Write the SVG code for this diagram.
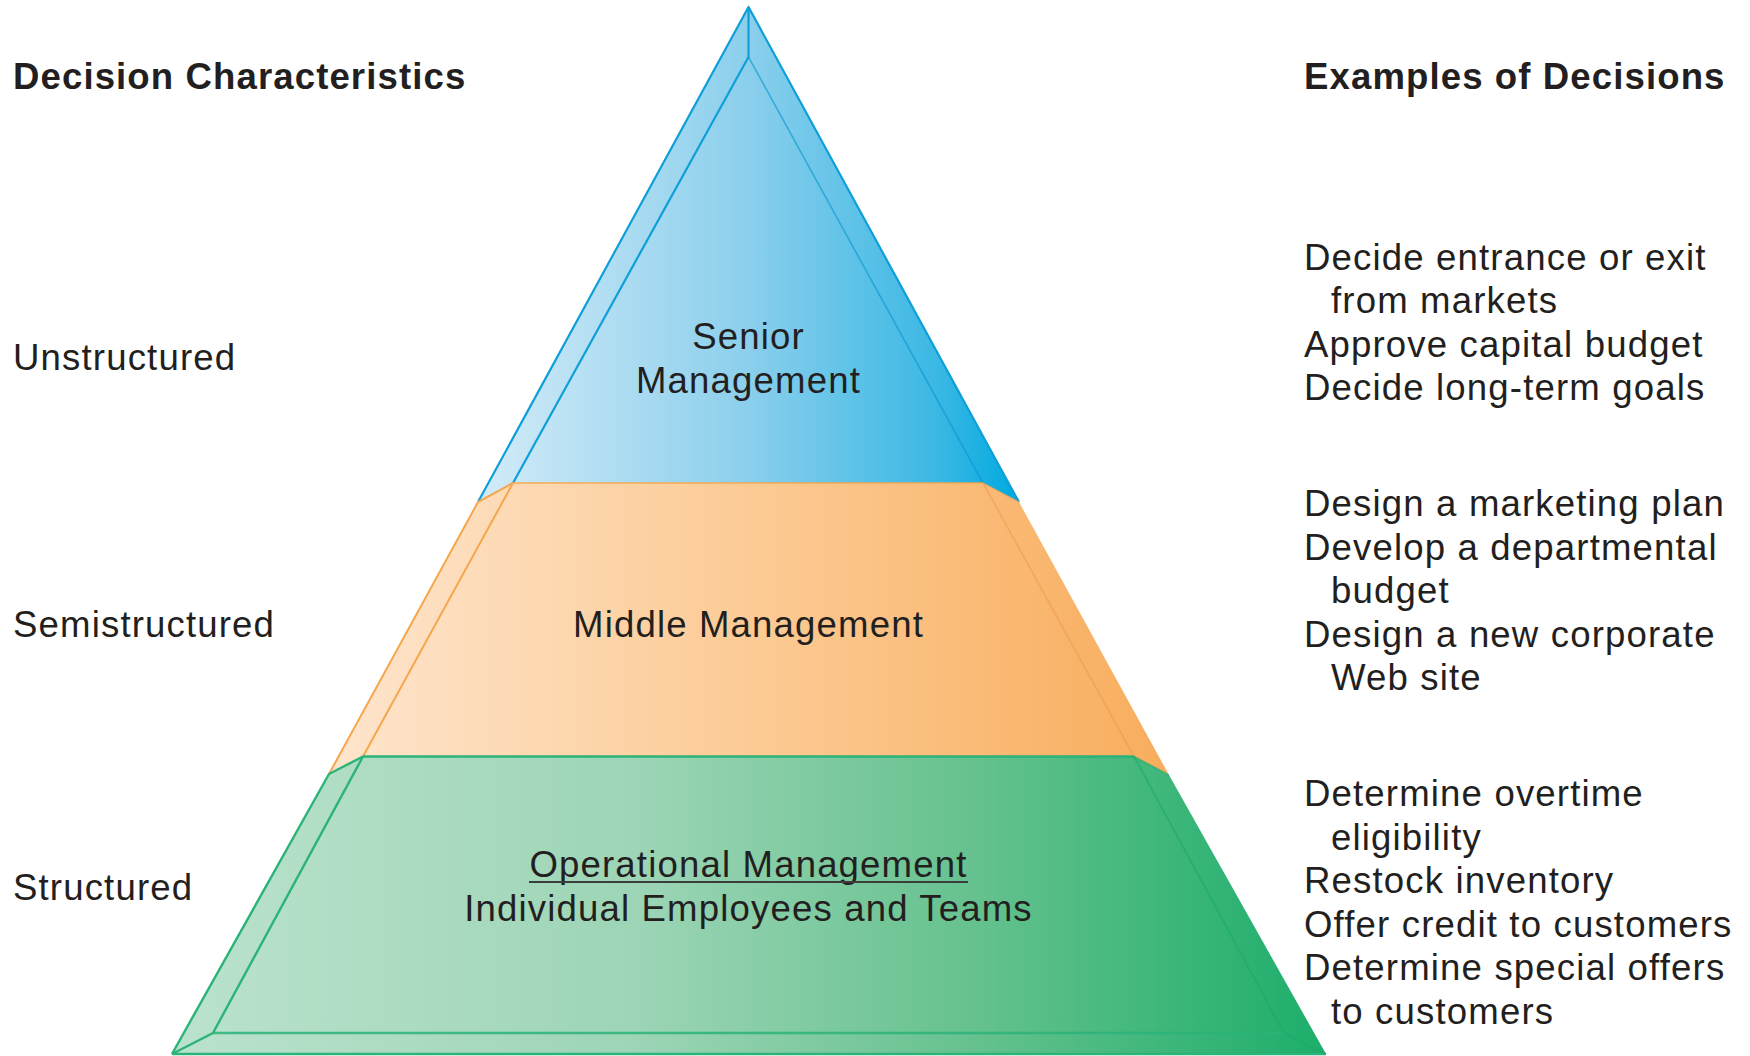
<svg xmlns="http://www.w3.org/2000/svg" width="1750" height="1056" viewBox="0 0 1750 1056">
  <style>
    .t { font-family: "Liberation Sans", Arial, Helvetica, sans-serif; font-size: 36.6px; letter-spacing: 1.15px; fill: #231f20; }
    .b { font-weight: bold; letter-spacing: 1.1px; }
    .c { text-anchor: middle; }
    .blue { stroke: #0e9fd9; stroke-width: 2.2; fill: none; stroke-linejoin: round; }
    .orange { stroke: #f6a64c; stroke-width: 2; fill: none; stroke-linejoin: round; }
    .green { stroke: #2bb378; stroke-width: 2.4; fill: none; stroke-linejoin: round; }
    .blueR { stroke: #0896cf; stroke-width: 1.6; fill: none; opacity: 0.6; }
    .orangeR { stroke: #e89a48; stroke-width: 1.6; fill: none; opacity: 0.5; }
    .greenR { stroke: #1ea868; stroke-width: 1.8; fill: none; opacity: 0.6; }
  </style>
  <defs>
    <linearGradient id="gBlue" gradientUnits="userSpaceOnUse" x1="478" y1="0" x2="1019" y2="0">
      <stop offset="0" stop-color="#d3ebf8"/>
      <stop offset="0.5" stop-color="#8bcfec"/>
      <stop offset="0.85" stop-color="#3ab8e4"/>
      <stop offset="1" stop-color="#00a9df"/>
    </linearGradient>
    <linearGradient id="gOrange" gradientUnits="userSpaceOnUse" x1="329" y1="0" x2="1169" y2="0">
      <stop offset="0" stop-color="#fee5cd"/>
      <stop offset="0.5" stop-color="#fccb95"/>
      <stop offset="1" stop-color="#f8ad5d"/>
    </linearGradient>
    <linearGradient id="gGreen" gradientUnits="userSpaceOnUse" x1="172" y1="0" x2="1326" y2="0">
      <stop offset="0" stop-color="#bbe2cd"/>
      <stop offset="0.4" stop-color="#9dd5b6"/>
      <stop offset="0.7" stop-color="#64c18e"/>
      <stop offset="1" stop-color="#1dae6b"/>
    </linearGradient>
  </defs>

  <rect x="0" y="0" width="1750" height="1056" fill="#ffffff"/>

  <g id="tier-senior">
    <polygon points="748.5,7 1019,502 983,483 513,483 478,502" fill="url(#gBlue)"/>
    <polyline class="blue" points="478,502 748.5,7 1019,502"/>
    <line class="blue" x1="748.5" y1="7" x2="748.5" y2="57"/>
    <polyline class="blue" points="513,483 748.5,57"/>
    <polyline class="blueR" points="748.5,57 983,483"/>
    <text class="t c" x="748.5" y="349">Senior</text>
    <text class="t c" x="748.5" y="393">Management</text>
  </g>

  <g id="tier-middle">
    <polygon points="478,502 513,483 983,483 1019,502 1169,775 1134,756.5 363,756.5 329,774" fill="url(#gOrange)"/>
    <polyline class="orange" points="329,774 478,502 513,483"/>
    <line class="orange" x1="513" y1="483" x2="983" y2="483" opacity="0.7"/>
    <line class="orange" x1="513" y1="483" x2="363" y2="756.5"/>
    <polyline class="orangeR" points="983,483 1019,502"/>
    <line class="orangeR" x1="983" y1="483" x2="1134" y2="756.5"/>
    <text class="t c" x="748.5" y="637">Middle Management</text>
  </g>

  <g id="tier-operational">
    <polygon points="329,774 363,756.5 1134,756.5 1169,775 1326,1054 172,1054" fill="url(#gGreen)"/>
    <polyline class="green" points="1134,756.5 363,756.5 329,774 172,1054"/>
    <polyline class="green" points="363,756.5 213,1033 172,1054"/>
    <line class="green" x1="213" y1="1033" x2="1284" y2="1033" opacity="0.85"/>
    <line class="green" x1="172" y1="1054" x2="1326" y2="1054"/>
    <polyline class="greenR" points="1134,756.5 1169,775"/>
    <polyline class="greenR" points="1134,756.5 1284,1033 1326,1054"/>
    <text class="t c" x="748.5" y="877">Operational Management</text>
    <line x1="529" y1="882" x2="968" y2="882" stroke="#3a3d3b" stroke-width="2"/>
    <text class="t c" x="748.5" y="921">Individual Employees and Teams</text>
  </g>

  <g id="header-left">
    <text class="t b" x="13" y="89">Decision Characteristics</text>
  </g>
  <g id="header-right">
    <text class="t b" x="1304" y="89">Examples of Decisions</text>
  </g>

  <g id="characteristics">
    <text class="t" x="13" y="370">Unstructured</text>
    <text class="t" x="13" y="637">Semistructured</text>
    <text class="t" x="13" y="900">Structured</text>
  </g>

  <g id="examples-senior">
    <text class="t" x="1304" y="270">Decide entrance or exit</text>
    <text class="t" x="1331" y="313">from markets</text>
    <text class="t" x="1304" y="357">Approve capital budget</text>
    <text class="t" x="1304" y="400">Decide long-term goals</text>
  </g>
  <g id="examples-middle">
    <text class="t" x="1304" y="516">Design a marketing plan</text>
    <text class="t" x="1304" y="559.5">Develop a departmental</text>
    <text class="t" x="1331" y="603">budget</text>
    <text class="t" x="1304" y="646.5">Design a new corporate</text>
    <text class="t" x="1331" y="690">Web site</text>
  </g>
  <g id="examples-operational">
    <text class="t" x="1304" y="806">Determine overtime</text>
    <text class="t" x="1331" y="849.5">eligibility</text>
    <text class="t" x="1304" y="893">Restock inventory</text>
    <text class="t" x="1304" y="936.5">Offer credit to customers</text>
    <text class="t" x="1304" y="980">Determine special offers</text>
    <text class="t" x="1331" y="1023.5">to customers</text>
  </g>
</svg>
